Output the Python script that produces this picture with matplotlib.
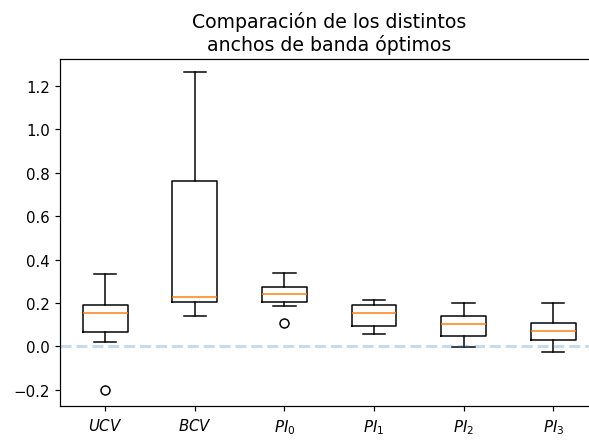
import matplotlib
matplotlib.use('Agg')
import matplotlib.pyplot as plt

labels = ['$UCV$', '$BCV$', '$PI_0$', '$PI_1$', '$PI_2$', '$PI_3$']
whislo = [0.020, 0.140, 0.185, 0.057, -0.002, -0.025]
q1 = [0.065, 0.206, 0.206, 0.094, 0.049, 0.028]
med = [0.154, 0.228, 0.243, 0.155, 0.102, 0.072]
q3 = [0.191, 0.760, 0.272, 0.191, 0.138, 0.109]
whishi = [0.331, 1.263, 0.340, 0.214, 0.198, 0.198]
fliers = [[-0.202], [], [0.109], [], [], []]

stats = []
for i in range(len(labels)):
    stats.append(dict(label=labels[i], whislo=whislo[i], q1=q1[i], med=med[i],
                      q3=q3[i], whishi=whishi[i], fliers=fliers[i]))

dpi = 108
fig = plt.figure(figsize=(589/dpi, 441/dpi), dpi=dpi)
ax = fig.add_axes([0.1024, 0.0764, 0.913, 0.788])
ax.bxp(stats)
ax.axhline(0, ls='--', lw=2, alpha=0.25)
ax.set_ylim(-0.2765, 1.325)
ax.set_xlim(0.5, 6.5)
ax.set_title('Comparación de los distintos\nanchos de banda óptimos', fontsize=12.6)
fig.savefig('out.png', dpi=dpi)
